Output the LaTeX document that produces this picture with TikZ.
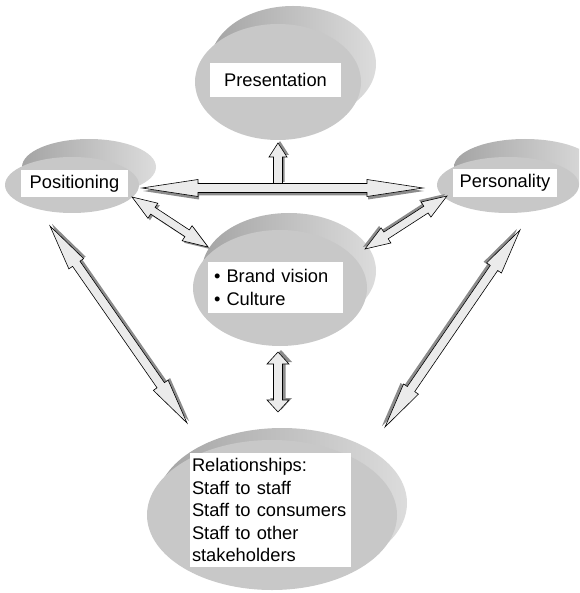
\documentclass[tikz,border=0pt]{standalone}
\usepackage{fontspec}
\setmainfont{Liberation Sans}
\usetikzlibrary{calc,shapes.geometric}
\definecolor{cFront}{HTML}{C8C8C8}
\definecolor{cRimDark}{HTML}{A4A4A4}
\definecolor{cRimLight}{HTML}{DCDCDC}
\definecolor{cArrowFill}{HTML}{EBEBEB}
\definecolor{cArrowShade}{HTML}{8C8C8C}
\tikzset{
  discrim/.style={ellipse, inner sep=0pt, outer sep=0pt, draw=none, left color=cRimDark, right color=cRimLight},
  discfront/.style={ellipse, inner sep=0pt, outer sep=0pt, draw=none, fill=cFront},
  textbox/.style={fill=white, inner sep=0pt, font=\fontsize{18.3}{22.5}\selectfont,
    execute at begin node={\hyphenpenalty=10000 \exhyphenpenalty=10000 }},
  arrowbody/.style={fill=cArrowFill, draw=black, line width=0.6pt, line join=miter},
  arrowshadow/.style={fill=cArrowShade},
}
% double block arrow: style, from, to, head length, head half width, shaft half width, offset
\newcommand\dblarrowpath[7]{%
  \path[#1] let \p1=($(#2)+(#7)$), \p2=($(#3)+(#7)$),
      \n1={atan2(\y2-\y1,\x2-\x1)}, \n2={\n1+90}, \n3={\n1-90}, \n4={\n1+180} in
    (\p1)
    -- ($(\p1)+(\n1:#4pt)+(\n2:#5pt)$)
    -- ($(\p1)+(\n1:#4pt)+(\n2:#6pt)$)
    -- ($(\p2)+(\n4:#4pt)+(\n2:#6pt)$)
    -- ($(\p2)+(\n4:#4pt)+(\n2:#5pt)$)
    -- (\p2)
    -- ($(\p2)+(\n4:#4pt)+(\n3:#5pt)$)
    -- ($(\p2)+(\n4:#4pt)+(\n3:#6pt)$)
    -- ($(\p1)+(\n1:#4pt)+(\n3:#6pt)$)
    -- ($(\p1)+(\n1:#4pt)+(\n3:#5pt)$)
    -- cycle;%
}
\newcommand\dblarrow[6]{%
  \dblarrowpath{arrowshadow}{#1}{#2}{#3}{#4}{#5}{#6}%
  \dblarrowpath{arrowbody}{#1}{#2}{#3}{#4}{#5}{0,0}%
}
% single block arrow: style, tip, base, head length, head half width, shaft half width, offset
\newcommand\sglarrowpath[7]{%
  \path[#1] let \p1=($(#2)+(#7)$), \p2=($(#3)+(#7)$),
      \n1={atan2(\y2-\y1,\x2-\x1)}, \n2={\n1+90}, \n3={\n1-90} in
    (\p1)
    -- ($(\p1)+(\n1:#4pt)+(\n2:#5pt)$)
    -- ($(\p1)+(\n1:#4pt)+(\n2:#6pt)$)
    -- ($(\p2)+(\n2:#6pt)$)
    -- ($(\p2)+(\n3:#6pt)$)
    -- ($(\p1)+(\n1:#4pt)+(\n3:#6pt)$)
    -- ($(\p1)+(\n1:#4pt)+(\n3:#5pt)$)
    -- cycle;%
}
\newcommand\sglarrow[6]{%
  \sglarrowpath{arrowshadow}{#1}{#2}{#3}{#4}{#5}{#6}%
  \sglarrowpath{arrowbody}{#1}{#2}{#3}{#4}{#5}{0,0}%
}
% disc: name, x, y, rx, ry, dx, dy
\newcommand\disc[7]{%
  \node[discrim, minimum width=#4*2pt, minimum height=#5*2pt] (#1back) at (#2+#6,#3+#7) {};
  \node[discfront, minimum width=#4*2pt, minimum height=#5*2pt] (#1) at (#2,#3) {};
}
\begin{document}
\begin{tikzpicture}[x=1pt,y=-1pt]
\useasboundingbox (0,0) rectangle (579,593);
\begin{scope}
\clip (0,0) rectangle (579,593);
% discs
\disc{pres}{278}{82}{83}{58}{15}{-18}
\disc{pos}{72}{185}{67}{28}{17}{-18}
\disc{pers}{508}{185}{71}{28}{17}{-18}
\disc{core}{280}{288}{87}{58}{9}{-17}
\disc{rel}{272}{515}{125}{75}{10}{-12}
\end{scope}
% labels
\node[textbox, minimum width=131pt, minimum height=34pt] (presT) at (275.5,80) {Presentation};
\node[textbox, minimum width=107pt, minimum height=27pt] (posT) at (74.5,183.5) {Positioning};
\node[textbox, minimum width=104pt, minimum height=28pt] (persT) at (505,183) {Personality};
\node[textbox, text width=123pt, inner xsep=6pt, minimum height=51pt, align=left] (coreT) at (275.5,287.5)
  {\textbullet\ Brand vision\\\textbullet\ Culture};
\node[textbox, text width=157pt, inner xsep=2pt, minimum height=114pt, align=left] (relT) at (270.5,510)
  {Relationships:\\Staff to staff\\Staff to consumers\\Staff to other\\stakeholders};
% arrow end points
\coordinate (hL) at (142,188);
\coordinate (hR) at (423,188);
\coordinate (presTip) at (278,143);
\coordinate (presBase) at (278,184);
\coordinate (pcA) at (132,197);
\coordinate (pcB) at (208,247);
\coordinate (rcA) at (447,196);
\coordinate (rcB) at (365,249);
\coordinate (lA) at (50,226);
\coordinate (lB) at (187,423);
\coordinate (rA) at (520,230);
\coordinate (rB) at (385,427);
\coordinate (cA) at (278,352);
\coordinate (cB) at (278,412);
% arrows
\sglarrow{presTip}{presBase}{14}{9}{4.5}{2,-2}
\dblarrow{hL}{hR}{56}{8.5}{4.5}{1,3}
\dblarrow{pcA}{pcB}{25}{9}{4}{2,2}
\dblarrow{rcA}{rcB}{25}{9}{4}{-2,-2}
\dblarrow{lA}{lB}{46}{9}{4.5}{2,-2}
\dblarrow{rA}{rB}{46}{9}{4.5}{-3,-1}
\dblarrow{cA}{cB}{12}{11}{4.5}{3,-2}
\end{tikzpicture}
\end{document}
